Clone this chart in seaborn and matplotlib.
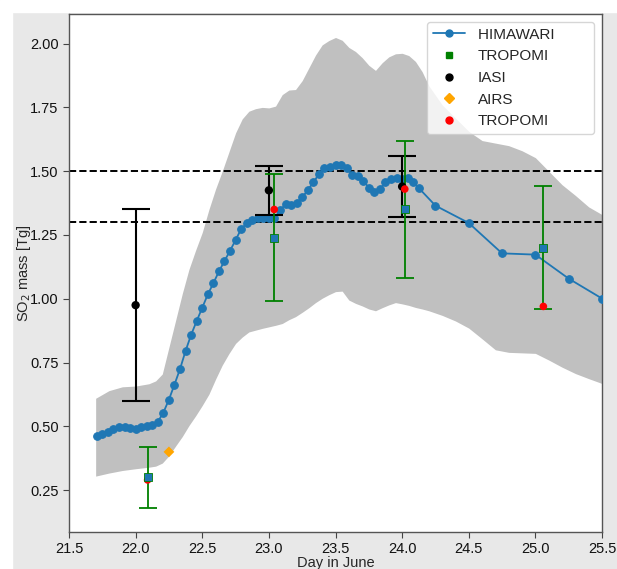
import numpy as np
import matplotlib
matplotlib.use('Agg')
import matplotlib.pyplot as plt
from matplotlib.lines import Line2D
from matplotlib.patches import Rectangle
import seaborn as sns

# HIMAWARI hourly mass (hours counted from 21 June 00 UTC)
hima_hours = list(range(17, 76)) + [78, 84, 90, 96, 102, 108]
hima_mass = [0.464, 0.469, 0.479, 0.490, 0.497, 0.497, 0.495, 0.490, 0.497, 0.501,
             0.506, 0.518, 0.554, 0.605, 0.664, 0.725, 0.796,
             0.859, 0.913, 0.965, 1.017, 1.061, 1.107, 1.148, 1.188, 1.230, 1.273,
             1.296, 1.310, 1.316, 1.318, 1.315, 1.315, 1.346, 1.371, 1.367, 1.376,
             1.397, 1.426, 1.456, 1.488, 1.512, 1.517, 1.525,
             1.525, 1.511, 1.484, 1.482, 1.462, 1.436, 1.419, 1.430, 1.456, 1.469,
             1.475, 1.469, 1.475, 1.456, 1.434,
             1.365, 1.297, 1.178, 1.173, 1.079, 1.001]

# uncertainty band
band_day = [21.7, 21.8, 21.9, 22.0, 22.1, 22.15, 22.2, 22.25, 22.3, 22.35, 22.4, 22.45,
            22.5, 22.55, 22.6, 22.65, 22.7, 22.75, 22.8, 22.85, 22.9, 22.95, 23.0, 23.05,
            23.1, 23.15, 23.2, 23.25, 23.3, 23.35, 23.4, 23.45, 23.5, 23.55, 23.6, 23.65,
            23.7, 23.75, 23.8, 23.85, 23.9, 23.95, 24.0, 24.05, 24.1, 24.15, 24.2, 24.3,
            24.4, 24.5, 24.6, 24.7, 24.8, 24.9, 25.0, 25.1, 25.2, 25.3, 25.4, 25.5]
band_high = [0.61, 0.64, 0.655, 0.658, 0.667, 0.678, 0.705, 0.81, 0.915, 1.02, 1.115, 1.19,
             1.26, 1.35, 1.43, 1.50, 1.575, 1.65, 1.705, 1.735, 1.745, 1.75, 1.748, 1.755,
             1.80, 1.818, 1.82, 1.855, 1.905, 1.955, 1.995, 2.012, 2.024, 2.013, 1.985, 1.969,
             1.945, 1.915, 1.895, 1.925, 1.948, 1.96, 1.962, 1.953, 1.93, 1.89, 1.835, 1.76,
             1.708, 1.656, 1.62, 1.61, 1.60, 1.58, 1.553, 1.50, 1.447, 1.405, 1.36, 1.33]
band_low = [0.305, 0.317, 0.327, 0.334, 0.34, 0.344, 0.356, 0.385, 0.423, 0.46, 0.503, 0.541,
            0.582, 0.626, 0.685, 0.74, 0.785, 0.825, 0.85, 0.87, 0.877, 0.884, 0.89, 0.896,
            0.903, 0.918, 0.93, 0.947, 0.965, 0.985, 1.002, 1.016, 1.028, 1.03, 0.995, 0.982,
            0.972, 0.96, 0.953, 0.965, 0.976, 0.985, 0.98, 0.974, 0.966, 0.96, 0.953, 0.935,
            0.913, 0.885, 0.843, 0.80, 0.79, 0.788, 0.786, 0.76, 0.732, 0.707, 0.687, 0.668]

# TROPOMI (green squares with error)
tropomi_day = [22.09, 23.04, 24.02, 25.06]
tropomi_mass = [0.30, 1.24, 1.35, 1.20]
tropomi_err = [0.12, 0.25, 0.27, 0.24]

# IASI
iasi_day = [22.0, 23.0, 24.0]
iasi_mass = [0.975, 1.425, 1.44]
iasi_err = [0.375, 0.095, 0.12]

# AIRS
airs_day = [22.25]
airs_mass = [0.40]

# TROPOMI (red)
tropomi2_day = [22.09, 23.04, 24.02, 25.06]
tropomi2_mass = [0.29, 1.35, 1.43, 0.97]

ref_levels = [1.5, 1.3]

sns.set_style('ticks')
plt.rcParams['font.family'] = ['Liberation Sans', 'DejaVu Sans']
plt.rcParams['font.size'] = 10.5

fig = plt.figure(figsize=(6.17, 5.69), dpi=100, facecolor='#e8e8e8')
fig.add_artist(Rectangle((0, 0), 12 / 617, 1, transform=fig.transFigure, color='white', zorder=0))
fig.add_artist(Rectangle((0, 1 - 12 / 569), 1, 12 / 569, transform=fig.transFigure, color='white', zorder=0))
ax = fig.add_axes([69 / 617, 1 - 532 / 569, 533 / 617, 518 / 569])
ax.set_facecolor('white')

hima_day = [21 + h / 24 for h in hima_hours]

ax.fill_between(band_day, band_low, band_high, color='#c0c0c0', lw=0, zorder=1)
for lev in ref_levels:
    ax.axhline(lev, color='black', ls='--', lw=1.4, zorder=2)

sns.lineplot(x=hima_day, y=hima_mass, ax=ax, color='#1f77b4', marker='o', markersize=5.5,
             markeredgecolor='#1f77b4', lw=1.3, zorder=3, sort=False)

ax.errorbar(iasi_day, iasi_mass, yerr=iasi_err, fmt='none', ecolor='black', elinewidth=1.5,
            capsize=10, capthick=1.5, zorder=4)
ax.errorbar(tropomi_day, tropomi_mass, yerr=tropomi_err, fmt='none', ecolor='green',
            elinewidth=1.3, capsize=6.5, capthick=1.3, zorder=5)

sns.scatterplot(x=iasi_day, y=iasi_mass, ax=ax, color='black', s=36, edgecolor='none', zorder=6)
sns.scatterplot(x=tropomi2_day, y=tropomi2_mass, ax=ax, color='red', s=30, edgecolor='none', zorder=6)
sns.scatterplot(x=tropomi_day, y=tropomi_mass, ax=ax, color='#1f77b4', marker='s', s=28,
                edgecolor='green', linewidth=0.6, zorder=7)
sns.scatterplot(x=airs_day, y=airs_mass, ax=ax, color='orange', marker='D', s=30, edgecolor='none', zorder=6)

ax.set_xlim(21.5, 25.5)
ax.set_ylim(0.086, 2.116)
ax.set_xticks(np.arange(21.5, 25.51, 0.5))
ax.set_yticks(np.arange(0.25, 2.01, 0.25))
ax.xaxis.set_major_formatter(matplotlib.ticker.FormatStrFormatter('%.1f'))
ax.yaxis.set_major_formatter(matplotlib.ticker.FormatStrFormatter('%.2f'))
ax.tick_params(labelsize=10.5, length=4, color='#444444', labelcolor='#111111')
for sp in ax.spines.values():
    sp.set_color('#555555')
    sp.set_linewidth(1.0)

ax.set_xlabel('Day in June', fontsize=10.5, labelpad=0)
ax.set_ylabel('SO$_2$ mass [Tg]', fontsize=10.5, labelpad=-2)

handles = [
    Line2D([], [], color='#1f77b4', marker='o', markersize=5, lw=1.3),
    Line2D([], [], color='green', marker='s', markersize=5, ls='none'),
    Line2D([], [], color='black', marker='o', markersize=5, ls='none'),
    Line2D([], [], color='orange', marker='D', markersize=5, ls='none'),
    Line2D([], [], color='red', marker='o', markersize=5, ls='none'),
]
labels = ['HIMAWARI' + '\u00a0' * 8, 'TROPOMI', 'IASI', 'AIRS', 'TROPOMI']
ax.legend(handles, labels, loc='upper right', fontsize=11, frameon=True, framealpha=0.8,
          edgecolor='#cccccc', handlelength=2.1)

fig.savefig('out.png', dpi=100, facecolor=fig.get_facecolor())
